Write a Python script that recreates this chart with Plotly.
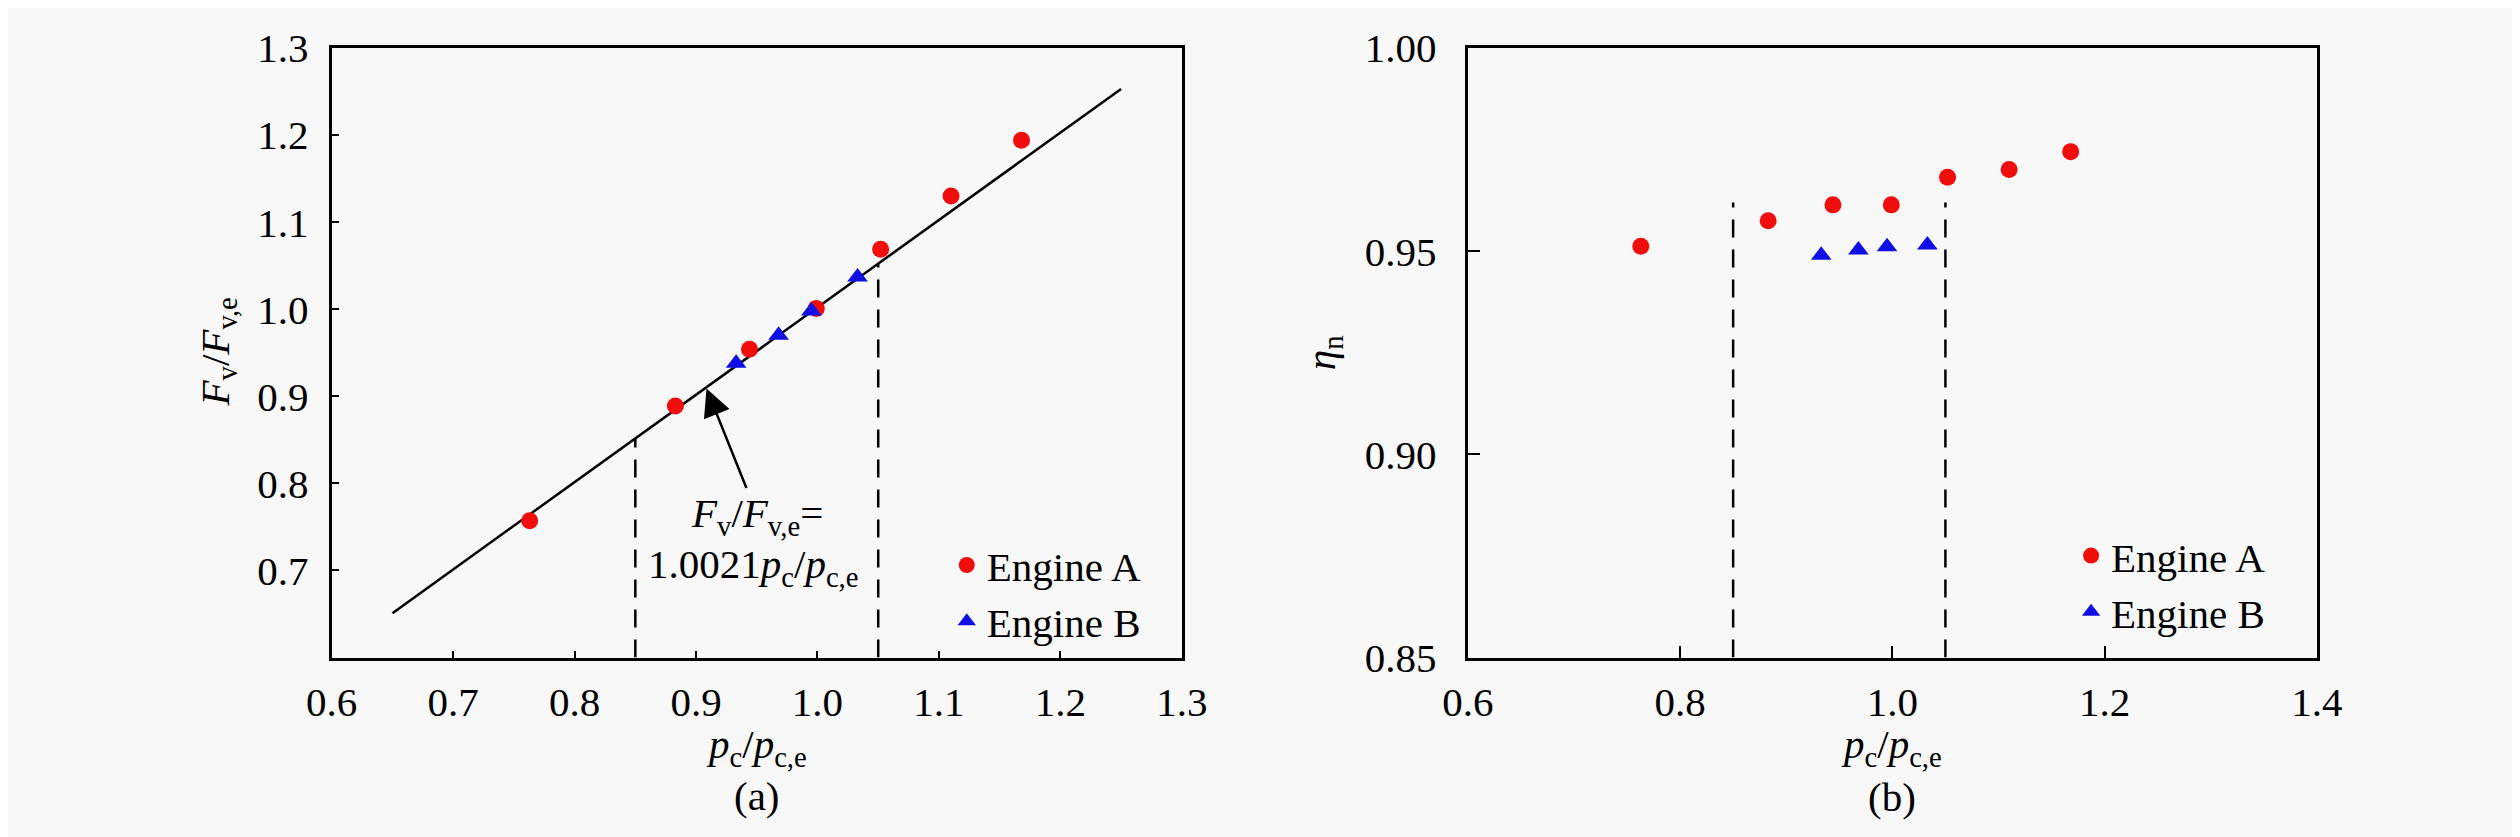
"""
Engine A / Engine B の推力比と効率 (pc/pc,e に対する)
(a) Fv/Fv,e   (b) ηn
"""

import plotly.graph_objects as go

# 共通の横軸 pc/pc,e
PC_A = [0.763, 0.883, 0.944, 0.999, 1.052, 1.110, 1.168]
PC_B = [0.933, 0.968, 0.995, 1.033]

# (a) 推力比
FV_A = [0.757, 0.889, 0.954, 1.001, 1.069, 1.130, 1.194]
FV_B = [0.938, 0.970, 0.998, 1.037]
FIT_X = [0.65, 1.25]
FIT_Y = [0.651, 1.253]

# (b) ノズル効率
ETA_A = [0.9512, 0.9575, 0.9614, 0.9614, 0.9682, 0.9701, 0.9745]
ETA_B = [0.9490, 0.9503, 0.9511, 0.9515]

# 破線の範囲
BOUND_X = [0.85, 1.05]
BOUND_TOP_A = [0.852, 1.052]
BOUND_TOP_B = [0.962, 0.962]

FONT = "Liberation Serif"
FS = 41
RED = "#f20d0d"
BLUE = "#1010e6"
BG = "#f8f8f8"
W, H = 2520, 837


def px_x(p):
    return p / W


def px_y(p):
    return 1 - p / H


def vlines(xs, y0, tops):
    x, y = [], []
    for xv, tv in zip(xs, tops):
        x += [xv, xv, None]
        y += [y0, tv, None]
    return x, y


fig = go.Figure()

# ---- (a) ----
fig.add_trace(go.Scatter(x=FIT_X, y=FIT_Y, mode="lines", showlegend=False,
                         line=dict(color="black", width=2.5), xaxis="x", yaxis="y"))
vx, vy = vlines(BOUND_X, 0.6, BOUND_TOP_A)
fig.add_trace(go.Scatter(x=vx, y=vy, mode="lines", showlegend=False,
                         line=dict(color="black", width=2.5, dash="18px,12px"),
                         xaxis="x", yaxis="y"))
fig.add_trace(go.Scatter(x=PC_A, y=FV_A, mode="markers", name="Engine A",
                         marker=dict(symbol="circle", size=17, color=RED),
                         xaxis="x", yaxis="y", legend="legend"))
fig.add_trace(go.Scatter(x=PC_B, y=FV_B, mode="markers", name="Engine B",
                         marker=dict(symbol="triangle-up", size=18, color=BLUE),
                         xaxis="x", yaxis="y", legend="legend"))

# ---- (b) ----
vx, vy = vlines(BOUND_X, 0.85, BOUND_TOP_B)
fig.add_trace(go.Scatter(x=vx, y=vy, mode="lines", showlegend=False,
                         line=dict(color="black", width=2.5, dash="18px,12px"),
                         xaxis="x2", yaxis="y2"))
fig.add_trace(go.Scatter(x=PC_A, y=ETA_A, mode="markers", name="Engine A",
                         marker=dict(symbol="circle", size=17, color=RED),
                         xaxis="x2", yaxis="y2", legend="legend2"))
fig.add_trace(go.Scatter(x=PC_B, y=ETA_B, mode="markers", name="Engine B",
                         marker=dict(symbol="triangle-up", size=18, color=BLUE),
                         xaxis="x2", yaxis="y2", legend="legend2"))

axis_common = dict(
    showline=True, mirror=True, linecolor="black", linewidth=3,
    showgrid=False, zeroline=False, ticks="inside", tickcolor="black",
    tickwidth=2, tickfont=dict(family=FONT, size=FS, color="black"),
    ticklabeloverflow="allow",
)
PC_TITLE = "<i>p</i><sub>c</sub>/<i>p</i><sub>c,e</sub>"

fig.update_layout(
    width=W, height=H,
    margin=dict(l=0, r=0, t=0, b=0),
    paper_bgcolor=BG, plot_bgcolor=BG,
    font=dict(family=FONT, size=FS, color="black"),
    xaxis=dict(axis_common, domain=[px_x(304), px_x(1172)], range=[0.6, 1.3],
               tickvals=[0.6, 0.7, 0.8, 0.9, 1.0, 1.1, 1.2, 1.3], tickformat=".1f",
               ticklen=7, anchor="y", ticklabelstandoff=6),
    yaxis=dict(axis_common, domain=[px_y(663), px_y(18)], range=[0.6, 1.3],
               tickvals=[0.7, 0.8, 0.9, 1.0, 1.1, 1.2, 1.3], tickformat=".1f",
               ticklen=7, anchor="x", ticklabelstandoff=12),
    xaxis2=dict(axis_common, domain=[px_x(1464), px_x(2331)], range=[0.6, 1.4],
                tickvals=[0.6, 0.8, 1.0, 1.2, 1.4], tickformat=".1f",
                ticklen=12, anchor="y2", ticklabelstandoff=6),
    yaxis2=dict(axis_common, domain=[px_y(663), px_y(18)], range=[0.85, 1.0],
                tickvals=[0.85, 0.90, 0.95, 1.00], tickformat=".2f",
                ticklen=12, anchor="x2", ticklabelstandoff=20),
    legend=dict(x=px_x(932), y=px_y(530), xanchor="left", yanchor="top",
                bgcolor="rgba(0,0,0,0)", font=dict(family=FONT, size=FS),
                itemwidth=30, tracegroupgap=0),
    legend2=dict(x=px_x(2080), y=px_y(520), xanchor="left", yanchor="top",
                 bgcolor="rgba(0,0,0,0)", font=dict(family=FONT, size=FS),
                 itemwidth=30, tracegroupgap=0),
)


def paper_text(cx, cy, text, angle=0):
    fig.add_annotation(x=px_x(cx), y=px_y(cy), xref="paper", yref="paper",
                       xanchor="center", yanchor="middle",
                       text=text, textangle=angle, showarrow=False,
                       font=dict(family=FONT, size=FS))


# 軸タイトル
paper_text(738, 758, PC_TITLE)
paper_text(1897, 758, PC_TITLE)
paper_text(188, 340, "<i>F</i><sub>v</sub>/<i>F</i><sub>v,e</sub>", -90)
paper_text(1317, 340, "<i>η</i><sub>n</sub>", -90)

# サブ図ラベル
paper_text(738, 810, "(a)")
paper_text(1897, 811, "(b)")

# 回帰式の注記と矢印
fig.add_annotation(x=0.9086, y=0.909, ax=0.942, ay=0.793, xref="x", yref="y",
                   axref="x", ayref="y", text="", showarrow=True,
                   arrowhead=2, arrowsize=2.2, arrowwidth=2.5, arrowcolor="black")
fig.add_annotation(x=0.9505, y=0.763, xref="x", yref="y", showarrow=False,
                   text="<i>F</i><sub>v</sub>/<i>F</i><sub>v,e</sub>=",
                   font=dict(family=FONT, size=FS))
fig.add_annotation(x=0.947, y=0.7045, xref="x", yref="y", showarrow=False,
                   text="1.0021<i>p</i><sub>c</sub>/<i>p</i><sub>c,e</sub>",
                   font=dict(family=FONT, size=FS))

fig.write_html("out.html")
